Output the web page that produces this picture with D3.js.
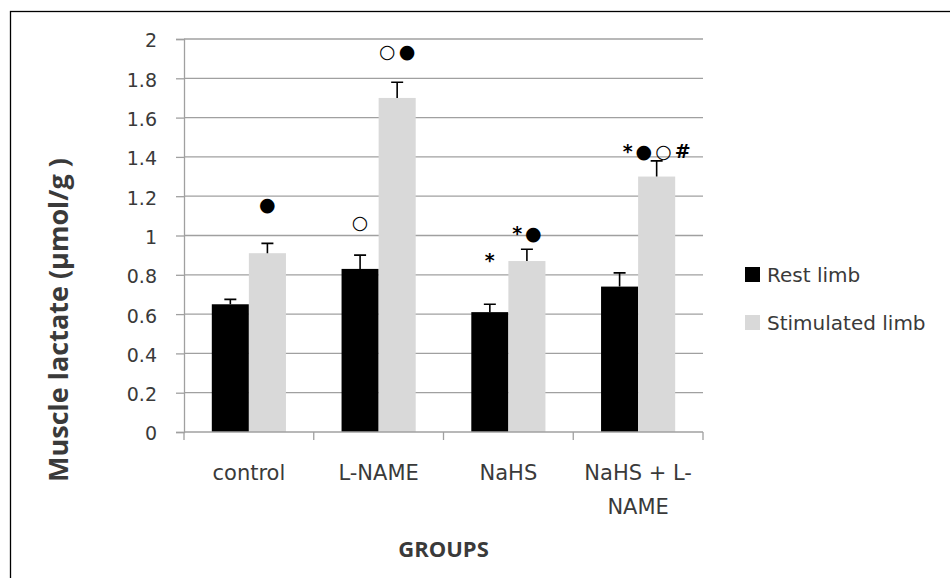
<!DOCTYPE html>
<html lang="en">
<head>
    <meta charset="UTF-8">
    <title>Muscle lactate by group</title>
    <style>
        body { margin: 0; background: #fff; }
        .tick-label { font-family: "DejaVu Sans", sans-serif; fill: #3a3a3a; }
        .title { font-family: "Open Sans", sans-serif; font-weight: bold; fill: #3a3a3a; }
        .mark { font-family: "DejaVu Sans", sans-serif; font-weight: bold; fill: #000; letter-spacing: 3px; }
    </style>
</head>
<body>
    <div id="chart"></div>

    <script src="https://d3js.org/d3.v7.min.js"></script>
    <script>
        // Data
        const groups = ["control", "L-NAME", "NaHS", "NaHS + L-NAME"];
        const groupLabels = [["control"], ["L-NAME"], ["NaHS"], ["NaHS + L-", "NAME"]];
        const series = ["Rest limb", "Stimulated limb"];
        const restValues = [0.65, 0.83, 0.61, 0.74];
        const restErrors = [0.025, 0.07, 0.04, 0.07];
        const stimValues = [0.91, 1.70, 0.87, 1.30];
        const stimErrors = [0.05, 0.08, 0.06, 0.08];
        const yTicks = [0, 0.2, 0.4, 0.6, 0.8, 1, 1.2, 1.4, 1.6, 1.8, 2];
        // significance marks: group, series index, symbols, level (in µmol/g)
        const marks = [
            { group: "control", s: 1, text: "●", level: 1.125 },
            { group: "L-NAME", s: 0, text: "○", level: 1.035 },
            { group: "L-NAME", s: 1, text: "○●", level: 1.905 },
            { group: "NaHS", s: 0, text: "*", level: 0.84 },
            { group: "NaHS", s: 1, text: "*●", level: 0.975 },
            { group: "NaHS + L-NAME", s: 1, text: "*●○#", level: 1.395 }
        ];

        const colors = ["#000000", "#d9d9d9"];

        const W = 950, H = 578;
        const plot = { left: 184, right: 703, top: 39, bottom: 432 };

        const svg = d3.select("#chart").append("svg")
            .attr("width", W)
            .attr("height", H);

        // outer frame (runs off the right and bottom)
        svg.append("rect")
            .attr("x", 10.5).attr("y", 11.5)
            .attr("width", 1000).attr("height", 1000)
            .attr("fill", "none")
            .attr("stroke", "#000")
            .attr("stroke-width", 1.3);

        const x0 = d3.scaleBand()
            .domain(groups)
            .range([plot.left, plot.right])
            .padding(0);

        const x1 = d3.scaleBand()
            .domain([0, 1])
            .range([0, x0.bandwidth()])
            .paddingInner(0)
            .paddingOuter(0.75);

        const y = d3.scaleLinear()
            .domain([0, 2])
            .range([plot.bottom, plot.top]);

        // gridlines
        svg.append("g")
            .selectAll("line")
            .data(yTicks.filter(d => d > 0))
            .join("line")
            .attr("x1", plot.left).attr("x2", plot.right)
            .attr("y1", d => y(d)).attr("y2", d => y(d))
            .attr("stroke", "#a0a0a0")
            .attr("stroke-width", 1.3);

        // y axis
        const yAxis = svg.append("g")
            .attr("transform", `translate(${plot.left},0)`)
            .call(d3.axisLeft(y).tickValues(yTicks).tickSize(8).tickPadding(19)
                .tickFormat(d3.format("~g")));
        yAxis.select(".domain").attr("stroke", "#a0a0a0").attr("stroke-width", 1.3);
        yAxis.selectAll(".tick line").attr("stroke", "#a0a0a0").attr("stroke-width", 1.3);
        yAxis.selectAll(".tick text")
            .attr("class", "tick-label")
            .attr("font-size", 19)
            .attr("dy", "0.42em");

        // bars
        const rows = groups.map((g, i) => ({
            group: g,
            vals: [
                { s: 0, v: restValues[i], e: restErrors[i] },
                { s: 1, v: stimValues[i], e: stimErrors[i] }
            ]
        }));

        const groupG = svg.append("g")
            .selectAll("g")
            .data(rows)
            .join("g")
            .attr("transform", d => `translate(${x0(d.group)},0)`);

        groupG.selectAll("rect")
            .data(d => d.vals)
            .join("rect")
            .attr("x", d => x1(d.s))
            .attr("y", d => y(d.v))
            .attr("width", x1.bandwidth())
            .attr("height", d => y(0) - y(d.v))
            .attr("fill", d => colors[d.s]);

        // error bars (upper only)
        const capW = 12;
        groupG.selectAll("path.err")
            .data(d => d.vals)
            .join("path")
            .attr("class", "err")
            .attr("d", d => {
                const cx = x1(d.s) + x1.bandwidth() / 2;
                return `M${cx},${y(d.v)}V${y(d.v + d.e)}M${cx - capW / 2},${y(d.v + d.e)}H${cx + capW / 2}`;
            })
            .attr("fill", "none")
            .attr("stroke", "#000")
            .attr("stroke-width", 1.6);

        // x axis with boundary ticks
        svg.append("line")
            .attr("x1", plot.left).attr("x2", plot.right)
            .attr("y1", y(0)).attr("y2", y(0))
            .attr("stroke", "#a0a0a0").attr("stroke-width", 1.3);

        const bounds = groups.map(g => x0(g)).concat([x0.range()[1]]);
        svg.append("g")
            .selectAll("line")
            .data(bounds)
            .join("line")
            .attr("x1", d => d).attr("x2", d => d)
            .attr("y1", y(0)).attr("y2", y(0) + 8)
            .attr("stroke", "#a0a0a0").attr("stroke-width", 1.3);

        svg.append("g")
            .selectAll("text")
            .data(groups)
            .join("text")
            .attr("class", "tick-label")
            .attr("font-size", 21)
            .attr("text-anchor", "middle")
            .attr("transform", d => `translate(${x0(d) + x0.bandwidth() / 2},480)`)
            .selectAll("tspan")
            .data((d, i) => groupLabels[i])
            .join("tspan")
            .attr("x", 0)
            .attr("y", (d, i) => i * 34)
            .text(d => d);

        // significance marks
        svg.append("g")
            .selectAll("text")
            .data(marks)
            .join("text")
            .attr("class", "mark")
            .attr("font-size", 19)
            .attr("text-anchor", "middle")
            .attr("x", d => x0(d.group) + x1(d.s) + x1.bandwidth() / 2 + 1.5)
            .attr("y", d => y(d.level))
            .text(d => d.text);

        // axis titles
        svg.append("text")
            .attr("class", "title")
            .attr("font-size", 27)
            .attr("text-anchor", "middle")
            .attr("transform", "translate(68,320) rotate(-90)")
            .text("Muscle lactate (µmol/g )");

        svg.append("text")
            .attr("class", "title")
            .attr("font-size", 22)
            .attr("text-anchor", "middle")
            .attr("x", (plot.left + plot.right) / 2)
            .attr("y", 557)
            .text("GROUPS");

        // legend
        const legend = svg.append("g")
            .selectAll("g")
            .data(series)
            .join("g")
            .attr("transform", (d, i) => `translate(745,${267 + i * 48})`);

        legend.append("rect")
            .attr("width", 15).attr("height", 15)
            .attr("fill", (d, i) => colors[i]);

        legend.append("text")
            .attr("class", "tick-label")
            .attr("font-size", 20)
            .attr("x", 22)
            .attr("y", 15)
            .text(d => d);
    </script>
</body>
</html>
